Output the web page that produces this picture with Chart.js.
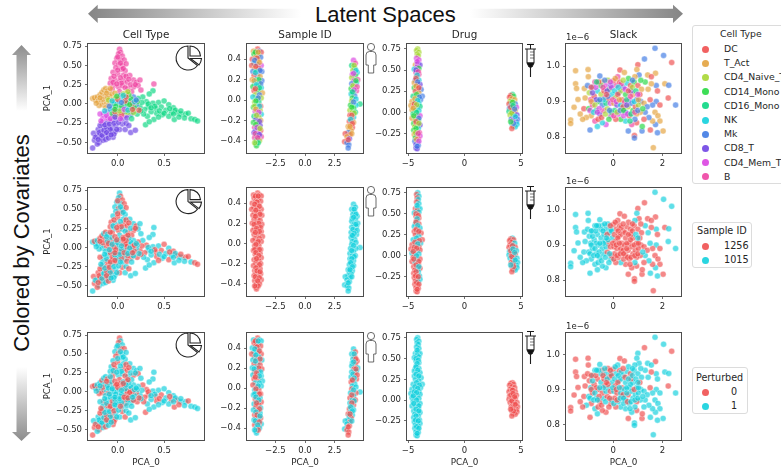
<!DOCTYPE html>
<html>
<head>
<meta charset="utf-8">
<script src="https://cdn.jsdelivr.net/npm/chart.js@4"></script>
<style>
  html, body { margin: 0; background: #fff; }
  body { position: relative; width: 781px; height: 472px; overflow: hidden; font-family: "DejaVu Sans", sans-serif; color: #262626; }
  canvas { position: absolute; filter: blur(0.3px); }
  svg { position: absolute; left: 0; top: 0; }
  .big { position: absolute; font: 22px "Liberation Sans", sans-serif; color: #111; white-space: nowrap; }
  .legend { position: absolute; box-sizing: border-box; border: 1px solid #dcdcdc; border-radius: 3px; background: #fff; }
  .legend div { position: absolute; white-space: nowrap; line-height: 12px; }
  .legend i { position: absolute; width: 7px; height: 7px; border-radius: 50%; }
</style>
</head>
<body>
<svg width="781" height="472">
  <defs>
    <linearGradient id="fadeLeft" x1="0" x2="1" y1="0" y2="0"><stop offset="0" stop-color="#858585"/><stop offset="1" stop-color="#fff"/></linearGradient>
    <linearGradient id="fadeRight" x1="1" x2="0" y1="0" y2="0"><stop offset="0" stop-color="#858585"/><stop offset="1" stop-color="#fff"/></linearGradient>
    <linearGradient id="fadeUp" x1="0" x2="0" y1="0" y2="1"><stop offset="0" stop-color="#8c8c8c"/><stop offset="1" stop-color="#fff"/></linearGradient>
    <linearGradient id="fadeDown" x1="0" x2="0" y1="1" y2="0"><stop offset="0" stop-color="#8c8c8c"/><stop offset="1" stop-color="#fff"/></linearGradient>
    <g id="pie" fill="#fff" stroke="#222" stroke-width="1.1">
      <path d="M188 58 V46 A12 12 0 1 0 197.5 65.5 Z"/>
      <path d="M190 56 V46 A10.5 10.5 0 0 1 200.5 56 Z"/>
      <path d="M190.5 58.5 H201.5 A12 12 0 0 1 199 65 Z"/>
    </g>
    <g id="person" fill="#fff" stroke="#444" stroke-width="0.8">
      <circle cx="371" cy="47" r="3.6"/>
      <path d="M366 65 V55 Q366 51.5 369.5 51.5 H372.5 Q376 51.5 376 55 V65 H373.7 V73 H368.3 V65 Z"/>
    </g>
    <g id="syringe" fill="none" stroke="#1c1c1c" stroke-width="1">
      <path d="M527 44.5 H534 M530.5 44.5 V49 M525 49 H536 M527 49 V63 H534 V49"/>
      <path d="M530 52 H534 M530 55 H534 M530 58 H534" stroke-width="0.6"/>
      <path d="M527 63 H534 L532 67 H529 Z" fill="#111"/>
      <path d="M530.5 67 V77" stroke-width="1.1"/>
    </g>
  </defs>
  <path d="M88 13.7 L97.7 4.7 V8.8 H301 V18 H97.7 V23 Z" fill="url(#fadeLeft)"/>
  <path d="M683 13.7 L673 4.7 V8.8 H470 V18 H673 V23 Z" fill="url(#fadeRight)"/>
  <path d="M21.5 45 L31 55 H27 V111 H16.5 V55 H12 Z" fill="url(#fadeUp)"/>
  <path d="M21.5 441 L31 432 H27 V367 H16.5 V432 H12 Z" fill="url(#fadeDown)"/>
</svg>
<div class="big" style="left:315px;top:2px">Latent Spaces</div>
<div class="big" style="left:22px;top:243px;transform:translate(-50%,-50%) rotate(-90deg)">Colored by Covariates</div>
<svg id="icons" width="781" height="472" style="z-index:5">
  <use href="#pie"/><use href="#pie" y="143.6"/><use href="#pie" y="287"/>
  <use href="#person"/><use href="#person" y="143"/><use href="#person" y="289"/>
  <use href="#syringe"/><use href="#syringe" y="142"/><use href="#syringe" y="287"/>
</svg>
<script>
// every point: [x, y, cell type index, sample index, perturbed]
const cellTypes = ["DC", "T_Act", "CD4_Naive_T", "CD14_Mono", "CD16_Mono", "NK", "Mk", "CD8_T", "CD4_Mem_T", "B"];
const typeColors = ["#ef4b4b", "#e3a13a", "#a6d62f", "#22d83f", "#04d67f", "#0ccfdc", "#3b78e3", "#6b3fe3", "#d93fe0", "#ee3fa0"];
const sampleIds = ["1256", "1015"];
const perturbedIds = ["0", "1"];
const redCyan = ["#ef4b4b", "#0ccfdc"];

const panelTitles = ["Cell Type", "Sample ID", "Drug", "Slack"];

const xTicks = [[0, 0.5], [-2.5, 0, 2.5], [-5, 0, 5], [0, 2]];
const xTickLabels = [["0.0", "0.5"], ["−2.5", "0.0", "2.5"], ["−5", "0", "5"], ["0", "2"]];
const yTicks = [[-0.5, -0.25, 0, 0.25, 0.5, 0.75], [-0.4, -0.2, 0, 0.2, 0.4], [-0.25, 0, 0.25, 0.5, 0.75], [0.8, 0.9, 1.0]];
const yTickLabels = [["−0.50", "−0.25", "0.00", "0.25", "0.50", "0.75"], ["−0.4", "−0.2", "0.0", "0.2", "0.4"], ["−0.25", "0.00", "0.25", "0.50", "0.75"], ["0.8", "0.9", "1.0"]];
const xRanges = [[-0.32, 0.93], [-4.9, 4.9], [-5.1, 5.1], [-1.93, 2.76]];
const yRanges = [[-0.635, 0.79], [-0.52, 0.56], [-0.48, 0.82], [0.755, 1.065]];

const cellTypePoints = [
  [.02,.71,9,1,0],[.03,.67,9,0,1],[.01,.65,9,1,0],[.05,.62,9,0,1],[-.01,.59,9,1,1],[.03,.57,9,1,0],[.07,.57,9,0,0],[-.03,.53,9,1,1],[.01,.51,9,0,0],[.05,.5,9,1,1],
  [.09,.52,9,0,1],[-.02,.47,9,1,0],[.04,.45,9,0,1],[.08,.43,9,1,1],[-.05,.41,9,1,1],[0,.39,9,0,0],[.06,.37,9,1,1],[-.07,.33,9,0,1],[-.03,.31,9,1,0],[.02,.29,9,0,1],
  [.07,.31,9,0,0],[.13,.37,9,1,1],[.17,.31,9,1,1],[.1,.28,9,0,0],[-.08,.27,9,0,1],[-.04,.24,9,1,0],[.01,.22,9,0,1],[.05,.24,9,1,1],[.2,.28,9,0,1],[.24,.31,9,1,1],
  [.22,.24,9,1,0],[.17,.22,9,0,0],[.11,.2,9,0,1],[.39,.26,9,1,1],[.02,.16,9,1,0],[-.06,.19,9,0,0],[.15,.16,9,0,1],[.25,.18,9,1,1],
  [.0,.44,9,0,1],[.06,.46,9,1,1],[-.04,.36,9,0,0],[.03,.34,9,1,1],[.09,.36,9,0,0],[-.05,.28,9,1,1],[.04,.27,9,0,1],[.12,.32,9,0,0],[.14,.25,9,1,1],[-.01,.26,9,0,1],[.08,.21,9,1,0],[.19,.25,9,0,1],[.03,.53,9,1,1],[.0,.61,9,0,1],
  [-.27,.07,1,1,0],[-.24,.05,1,1,1],[-.25,.08,1,0,0],[-.22,.09,1,1,1],[-.21,.04,1,1,0],[-.19,.12,1,0,1],[-.17,.15,1,0,0],[-.15,.18,1,1,1],[-.13,.2,1,0,1],[-.11,.17,1,1,0],
  [-.14,.1,1,0,1],[-.18,.03,1,1,1],[-.16,-.01,1,1,0],[-.12,.02,1,0,1],[-.09,.1,1,0,0],[-.07,.13,1,1,1],[-.1,-.02,1,0,0],[-.13,-.05,1,1,1],[-.05,.06,1,0,1],[-.2,-.02,1,1,0],
  [-.08,.2,1,0,1],[-.03,.14,1,0,0],[.04,-.1,1,1,1],[.09,.14,1,0,0],[.12,-.06,1,1,1],[-.23,.01,1,1,1],[-.16,.06,1,0,0],[-.11,.08,1,1,1],[-.19,.08,1,0,1],[-.12,.14,1,1,0],[-.06,.02,1,0,1],
  [.38,.17,4,1,1],[.34,.13,4,1,1],[.27,.09,4,1,0],[.22,.07,4,0,1],[.31,.03,4,0,0],[.38,.01,4,1,1],[.44,.02,4,1,1],[.5,.04,4,0,1],[.47,-.04,4,0,0],[.55,-.01,4,1,1],
  [.33,-.04,4,1,0],[.41,-.06,4,0,0],[.52,-.08,4,1,1],[.6,-.05,4,0,1],[.58,-.11,4,1,0],[.64,-.11,4,0,0],[.68,-.13,4,1,1],[.73,-.13,4,0,1],[.76,-.12,4,0,0],[.72,-.18,4,1,1],
  [.79,-.19,4,1,1],[.83,-.2,4,0,1],[.86,-.22,4,0,1],[.61,-.2,4,1,0],[.66,-.17,4,1,0],[.55,-.16,4,0,1],[.48,-.14,4,1,1],[.42,-.12,4,0,0],[.36,-.1,4,1,1],[.29,-.07,4,0,0],
  [.24,-.04,4,0,1],[.32,-.16,4,1,1],[.39,-.2,4,1,1],[.21,-.13,4,0,0],[.16,-.1,4,1,1],[.62,-.08,4,1,1],[.3,-.27,4,1,0],[.34,-.23,4,1,1],
  [.26,.02,4,0,1],[.33,.0,4,1,0],[.4,-.03,4,0,1],[.45,-.09,4,1,0],[.5,-.12,4,1,1],[.56,-.06,4,0,0],[.6,-.13,4,1,1],[.68,-.09,4,0,1],[.28,-.13,4,1,0],[.25,-.09,4,0,1],[.36,-.05,4,1,1],[.44,-.17,4,0,1],
  [-.27,-.57,7,1,0],[-.25,-.47,7,0,0],[-.22,-.42,7,1,1],[-.26,-.38,7,0,1],[-.2,-.5,7,1,0],[-.18,-.44,7,0,0],[-.16,-.47,7,1,1],[-.14,-.41,7,0,1],[-.17,-.36,7,1,0],[-.12,-.35,7,0,0],
  [-.1,-.4,7,1,1],[-.08,-.36,7,0,1],[-.05,-.43,7,1,0],[-.21,-.33,7,0,1],[-.15,-.3,7,1,1],[-.1,-.29,7,1,1],[-.06,-.31,7,0,0],[-.02,-.28,7,1,1],[-.03,-.36,7,1,0],[.02,-.33,7,0,1],
  [.05,-.26,7,0,0],[.09,-.25,7,1,1],[-.12,-.24,7,0,1],[-.07,-.22,7,1,0],[-.02,-.2,7,0,1],[.05,-.19,7,1,1],[-.17,-.25,7,0,0],[.14,-.37,7,1,1],[.19,-.34,7,1,1],[.08,-.33,7,1,0],
  [.12,-.28,7,0,1],[-.19,-.4,7,0,1],[-.22,-.52,7,0,1],
  [-.24,-.43,7,1,0],[-.2,-.37,7,0,1],[-.17,-.41,7,1,1],[-.13,-.46,7,1,0],[-.1,-.44,7,0,1],[-.15,-.34,7,1,1],[-.12,-.31,7,0,0],[-.08,-.33,7,1,1],[-.04,-.39,7,1,0],[-.01,-.33,7,1,1],[-.19,-.28,7,0,0],[-.14,-.27,7,1,1],[-.09,-.26,7,0,1],[-.04,-.25,7,1,0],[.01,-.24,7,1,1],[-.12,-.37,7,0,0],[-.07,-.4,7,1,1],[-.21,-.46,7,0,0],
  [-.15,-.13,8,1,0],[-.19,-.13,8,0,1],[-.16,-.19,8,1,1],[-.11,-.18,8,0,0],[-.05,-.16,8,0,1],[-.18,-.22,8,1,0],[-.11,-.1,8,1,1],[-.04,-.09,8,0,0],[.01,-.14,8,1,1],[.08,-.15,8,1,0],
  [-.02,.03,6,0,1],[.03,.11,6,1,0],[.11,.03,6,0,0],[.17,.09,6,1,1],[.06,-.02,6,0,1],[.2,-.01,6,1,0],[-.05,-.05,6,1,1],[.14,-.14,6,0,1],
  [.0,.01,5,1,1],[.05,.05,5,0,0],[.09,-.04,5,1,0],[-.04,.0,5,0,1],[.13,.04,5,1,1],[.02,-.06,5,0,1],[.15,-.03,5,1,0],[.07,.08,5,0,0],[-.08,-.07,5,0,1],
  [-.02,-.03,3,0,1],[.04,-.03,3,1,1],[.1,.01,3,0,0],[.14,.07,3,1,1],[.18,-.05,3,0,1],[.08,-.1,3,1,0],[-.06,-.13,3,0,0],[.12,.12,3,1,1],[.21,.03,3,1,1],
  [-.1,.05,2,0,1],[-.02,.08,2,1,0],[.06,.13,2,0,1],[.11,.16,2,0,0],[-.01,-.14,2,1,1],[.11,-.11,2,0,1],[.17,-.11,2,1,0],
  [.0,.06,0,1,0],[.08,.04,0,0,1],[-.03,-.1,0,1,1],[.16,.01,0,0,0],[.04,-.14,0,0,1],[.23,-.08,0,1,0],
  [-.06,.04,5,1,1],[-.01,.1,3,0,0],[.04,.02,6,1,1],[.09,.09,0,0,1],[.13,-.01,3,1,0],[.18,.03,5,0,1],[.02,-.09,2,1,1],[.07,-.07,8,0,0],[-.09,-.03,6,1,1],[-.03,-.07,3,0,1],[.11,-.08,5,1,0],[.16,-.07,0,0,1],[.2,.05,6,1,1],[.06,.11,5,0,0],[-.12,-.15,8,1,1],[-.08,-.19,8,0,0],[-.14,-.09,5,1,1],[-.03,-.17,7,0,1],[.03,-.19,8,1,0],[.1,-.18,7,0,1],[.15,-.19,4,1,1]
];

const sampleIdPoints = [
  [-4.0,.5,0,0,0],[-4.35,.48,1,0,1],[-3.85,.48,6,0,1],[-4.1,.47,0,0,0],[-3.7,.47,0,0,1],[-4.3,.45,3,0,0],[-3.95,.44,2,0,1],[-4.45,.4,0,0,1],[-4.15,.42,1,0,0],[-3.75,.42,6,0,0],
  [-3.95,.38,1,0,1],[-4.3,.36,5,0,1],[-4.5,.34,0,0,0],[-4.05,.35,6,0,1],[-3.7,.34,8,0,0],[-4.25,.31,1,0,0],[-3.9,.31,0,0,1],[-4.4,.28,6,0,1],[-4.1,.28,3,0,0],[-3.65,.28,6,0,1],
  [-4.0,.24,6,0,1],[-4.3,.24,0,0,0],[-3.8,.23,1,0,0],[-4.45,.2,1,0,1],[-4.1,.2,5,0,1],[-3.65,.19,6,0,0],[-4.25,.16,5,0,0],[-3.9,.16,2,0,1],[-4.4,.13,3,0,1],[-4.05,.13,4,0,0],
  [-3.7,.12,5,0,1],[-4.3,.09,0,0,0],[-3.95,.09,3,0,0],[-3.6,.07,1,0,1],[-4.2,.05,2,0,1],[-3.85,.05,6,0,1],[-4.4,.03,5,0,0],[-4.05,.01,4,0,0],[-3.7,.02,2,0,1],[-4.25,-.02,2,0,1],
  [-3.9,-.02,4,0,0],[-4.1,-.05,5,0,1],[-3.75,-.06,0,0,0],[-4.35,-.07,3,0,1],[-4.0,-.09,1,0,0],[-3.8,-.1,2,0,1],[-4.2,-.11,8,0,0],[-4.0,-.14,8,0,1],[-3.7,-.14,5,0,0],[-4.3,-.16,4,0,1],
  [-3.9,-.17,2,0,0],[-4.15,-.19,7,0,0],[-3.75,-.2,1,0,1],[-4.35,-.22,3,0,1],[-4.0,-.23,2,0,0],[-3.8,-.25,7,0,1],[-4.25,-.27,9,0,0],[-3.95,-.28,3,0,1],[-4.15,-.3,6,0,0],[-3.75,-.3,0,0,0],
  [-4.3,-.32,7,0,1],[-3.95,-.33,8,0,1],[-4.1,-.35,4,0,0],[-3.7,-.36,9,0,1],[-4.25,-.37,9,0,0],[-3.9,-.38,9,0,0],[-4.1,-.4,3,0,1],[-3.85,-.4,2,0,1],[-4.15,-.43,4,0,1],[-4.1,-.45,3,0,1],
  [-4.2,.47,3,0,0],[-3.95,.47,1,0,1],[-4.05,.41,0,0,0],[-4.25,.39,6,0,1],[-3.85,.37,1,0,0],[-4.15,.33,0,0,1],[-3.8,.29,6,0,0],[-4.2,.27,5,0,1],[-3.9,.2,3,0,0],[-4.3,.19,1,0,1],
  [-3.75,.16,6,0,1],[-4.1,.15,5,0,0],[-3.85,.12,4,0,1],[-4.2,.11,0,0,0],[-3.95,.02,6,0,1],[-4.15,-.01,3,0,0],[-4.25,-.06,2,0,1],[-3.85,-.06,5,0,0],[-4.15,-.09,1,0,1],[-3.9,-.12,8,0,1],
  [-4.1,-.15,2,0,0],[-3.85,-.21,7,0,0],[-4.15,-.24,3,0,1],[-4.05,-.27,8,0,0],[-3.8,-.28,2,0,1],[-4.2,-.33,9,0,1],[-3.85,-.34,7,0,0],[-4.0,-.37,9,0,1],[-3.95,-.42,4,0,0],[-4.25,-.42,2,0,1],
  [4.1,.39,8,1,1],[4.25,.36,9,1,0],[3.95,.34,4,1,1],[4.2,.31,3,1,0],[4.05,.29,2,1,1],[4.4,.27,5,1,0],[4.0,.25,8,1,1],[4.25,.24,3,1,0],[3.95,.22,2,1,1],[4.45,.2,9,1,1],
  [4.15,.19,8,1,0],[4.35,.17,5,1,1],[3.95,.16,6,1,1],[4.2,.13,2,1,0],[3.9,.11,3,1,1],[4.35,.09,9,1,0],[4.1,.08,4,1,1],[3.9,.06,5,1,0],[4.2,.04,6,1,1],[4.0,.02,3,1,1],
  [4.65,-.04,4,1,1],[3.95,-.01,2,1,0],[4.3,-.05,5,1,0],[3.85,-.05,3,1,1],[4.1,-.08,3,1,1],[3.8,-.1,2,1,0],[4.0,-.12,2,1,1],[4.25,-.12,4,1,0],[3.8,-.15,0,1,1],[4.1,-.17,5,1,0],
  [3.95,-.19,0,1,1],[3.75,-.21,0,1,0],[4.1,-.22,1,1,1],[3.85,-.24,0,1,1],[3.65,-.26,1,1,0],[4.0,-.27,0,1,1],[3.75,-.28,1,1,1],[3.9,-.3,1,1,0],[3.65,-.32,6,1,1],[3.4,-.33,0,1,1],
  [3.8,-.34,0,1,0],[3.55,-.36,1,1,1],[3.75,-.38,7,1,0],[3.35,-.41,0,1,1],[3.55,-.42,6,1,0],[3.7,-.44,6,1,0],[3.65,-.47,6,1,0],
  [4.15,.34,2,1,1],[4.3,.29,5,1,0],[4.1,.26,8,1,1],[4.3,.19,3,1,0],[4.05,.14,2,1,1],[4.4,.13,9,1,0],[4.15,.1,8,1,1],[4.0,.08,4,1,0],[4.3,.01,5,1,1],[4.1,-.02,6,1,1],
  [3.95,-.07,3,1,0],[4.15,-.13,2,1,1],[3.95,-.15,0,1,0],[3.85,-.19,5,1,1],[4.0,-.23,0,1,1],[3.8,-.26,1,1,0],[3.95,-.33,1,1,1],[3.65,-.39,0,1,0]
];

const drugPoints = [
  [-4.15,.75,2,1,1],[-4.25,.73,2,0,1],[-4.05,.71,2,1,1],[-4.2,.69,2,0,1],[-4.1,.67,2,1,1],[-4.25,.64,8,0,1],[-4.05,.62,8,1,1],[-4.35,.56,1,0,1],[-4.15,.57,7,1,1],[-3.95,.56,7,1,1],
  [-4.2,.54,8,0,1],[-4.45,.51,5,1,1],[-4.05,.52,3,1,1],[-4.3,.47,9,0,1],[-4.05,.45,9,0,1],[-4.25,.42,0,0,1],[-4.35,.38,6,1,1],[-4.05,.38,5,0,1],[-4.45,.35,1,1,1],[-4.2,.33,0,0,1],
  [-3.95,.33,7,1,1],[-4.45,.29,3,0,1],[-4.15,.28,1,1,1],[-3.85,.27,6,0,1],[-4.35,.25,0,0,1],[-4.05,.23,1,1,1],[-3.75,.19,6,0,1],[-4.55,.19,4,1,1],[-4.2,.17,2,0,1],[-3.9,.15,6,1,1],
  [-4.65,.13,1,0,1],[-4.35,.12,3,1,1],[-4.05,.11,5,0,1],[-4.75,.08,1,0,1],[-4.5,.07,0,0,1],[-4.2,.06,6,1,1],[-3.95,.07,4,0,1],[-4.65,.03,1,1,1],[-4.35,.02,3,0,1],[-4.05,.02,5,1,1],
  [-4.55,-.02,4,0,1],[-4.2,-.04,0,1,1],[-3.95,-.04,8,0,1],[-4.65,-.07,1,0,1],[-4.35,-.08,2,1,1],[-4.1,-.1,3,0,1],[-4.5,-.13,3,0,1],[-4.2,-.14,0,1,1],[-3.95,-.15,7,0,1],[-4.4,-.17,2,0,1],
  [-4.1,-.19,5,1,1],[-4.5,-.21,3,0,1],[-4.25,-.23,4,0,1],[-4.0,-.24,9,1,1],[-4.45,-.26,1,0,1],[-4.2,-.27,7,0,1],[-3.95,-.28,8,1,1],[-4.35,-.3,3,0,1],[-4.1,-.31,9,1,1],[-4.4,-.34,6,0,1],
  [-4.15,-.36,6,0,1],[-4.3,-.38,7,0,1],[-4.1,-.39,6,0,1],[-4.3,-.42,7,0,1],[-4.2,-.43,7,0,1],
  [-4.2,.6,8,1,1],[-4.3,.5,7,0,1],[-4.1,.48,9,0,1],[-4.2,.44,5,1,1],[-4.3,.4,0,0,1],[-4.15,.36,6,1,1],[-4.3,.31,1,0,1],[-4.05,.29,0,0,1],[-4.25,.21,3,1,1],[-4.0,.18,6,0,1],
  [-4.4,.16,1,0,1],[-4.15,.14,5,1,1],[-4.45,.1,0,0,1],[-4.25,.09,2,0,1],[-4.55,.05,1,0,1],[-4.25,.0,4,1,1],[-4.5,-.04,3,0,1],[-4.05,-.07,6,0,1],[-4.3,-.11,0,0,1],[-4.05,-.13,2,1,1],
  [-4.3,-.19,3,0,1],[-4.35,-.24,2,0,1],[-4.1,-.25,9,0,1],[-4.25,-.32,1,0,1],[-4.05,-.34,8,0,1],[-4.2,-.4,6,0,1],
  [4.25,.21,4,1,0],[4.1,.2,0,0,0],[4.35,.19,3,0,0],[4.0,.18,0,0,0],[4.2,.16,1,0,0],[4.45,.15,1,1,0],[4.05,.13,2,0,0],[4.3,.12,2,1,0],[4.5,.1,6,0,0],[3.95,.1,0,0,0],
  [4.15,.08,6,0,0],[4.4,.07,5,0,0],[4.6,.06,8,1,0],[4.0,.05,6,1,0],[4.25,.04,2,0,0],[4.5,.02,1,0,0],[3.95,.01,4,1,0],[4.15,.0,3,0,0],[4.4,-.01,0,0,0],[4.65,-.03,7,1,0],
  [4.05,-.03,2,1,0],[4.3,-.05,3,0,0],[4.55,-.06,7,1,0],[4.7,-.08,6,1,0],[4.15,-.08,6,0,0],[4.4,-.1,5,1,0],[4.6,-.11,6,1,0],[4.2,-.13,5,0,0],[4.45,-.14,6,1,0],[4.65,-.14,5,1,0],
  [4.3,-.16,1,0,0],[4.5,-.17,5,1,0],[4.2,-.19,0,0,0],
  [4.25,.12,3,0,0],[4.1,.06,0,0,0],[4.3,.08,4,1,0],[4.2,-.01,2,0,0],[4.45,.04,6,1,0],[4.3,-.09,8,0,0],[4.5,-.05,5,1,0],[4.35,-.13,6,0,0],[4.1,-.11,3,1,0]
];

const slackPoints = [
  [1.7,1.05,6,1,1],[2.05,1.03,6,1,1],[2.38,1.01,0,1,0],[1.27,1.02,6,0,0],[1.0,1.004,0,0,1],[2.54,.89,6,1,1],[2.24,.91,0,1,0],[2.1,.95,1,0,1],[2.26,.946,6,1,1],[1.63,.77,1,0,1],
  [2.03,.817,1,0,1],[1.8,.812,6,1,1],[1.51,.82,0,1,1],[.86,.804,0,0,1],[.86,.797,6,0,1],[.61,.817,6,0,0],[1.17,.817,6,0,0],[-1.74,.848,1,1,0],[-1.74,.838,1,1,0],[-.95,.82,6,1,0],
  [-1.6,.884,1,1,0],[-1.54,.987,1,1,0],[-1.03,.99,1,1,0],[-1.02,.97,1,1,0],[-1.54,.95,1,1,0],[-1.5,.937,1,1,0],[-1.18,.937,1,1,0],[-1.44,.906,1,1,0],[.27,.989,0,0,0],[.45,.982,1,0,0],
  [.96,.99,1,1,1],[1.05,.975,6,0,1],[1.4,.975,1,0,1],[1.72,.98,1,0,0],[1.55,.97,0,0,1],[1.3,.955,3,1,1],[1.75,.945,6,1,1],[1.55,.95,1,0,0],[1.42,.935,1,1,1],[1.8,.93,0,0,1],
  [1.75,.9,6,1,1],[1.9,.89,0,0,1],[1.6,.89,6,0,1],[1.5,.905,0,1,0],[1.7,.87,1,0,1],[1.82,.86,1,0,1],[1.9,.845,1,0,1],[1.72,.835,6,1,1],[1.6,.845,1,0,1],[1.45,.855,6,1,1],
  [1.3,.87,6,1,1],[1.18,.83,3,0,0],[1.25,.85,0,0,1],[1.1,.87,1,0,1],[.95,.84,0,0,0],[.75,.835,9,0,1],[.5,.845,5,0,1],[.3,.85,3,1,1],[.1,.85,0,0,0],[-.1,.86,8,1,0],
  [-.3,.835,8,1,0],[-.45,.84,5,1,0],[-.65,.83,5,1,1],[-.75,.845,9,1,1],[-.9,.86,1,1,0],[-1.1,.855,1,1,1],[-1.25,.85,1,1,0],[-1.35,.865,1,1,0],[-1.2,.88,0,1,0],[-1.0,.88,3,1,1],
  [-.85,.89,9,1,0],[-.7,.875,4,1,1],[-.55,.865,7,1,0],[-.4,.875,9,1,1],[-.25,.88,2,0,0],[-.08,.87,3,0,1],[.05,.875,4,0,0],[.2,.865,8,0,1],[.35,.88,1,0,0],[.5,.87,6,0,1],
  [.65,.86,0,0,1],[.8,.875,3,0,1],[.95,.865,1,0,0],[1.12,.9,6,0,1],[1.25,.895,1,0,1],[1.38,.885,6,0,1],[-1.15,.91,1,1,0],[-.98,.925,2,1,0],[-.85,.94,6,1,1],[-.75,.955,9,1,1],
  [-.55,.972,6,1,1],[-.45,.955,1,1,0],[-.3,.945,8,1,1],[-.15,.935,3,1,0],[.0,.958,0,0,0],[.12,.945,9,0,1],[.25,.955,0,0,0],[.4,.94,6,0,1],[.55,.952,5,0,1],[.7,.945,0,0,0],
  [.85,.955,3,0,1],[1.0,.945,0,0,1],[1.15,.935,1,0,1],[-1.05,.945,6,1,0],[-.92,.905,9,1,1],[-.78,.915,0,1,0],[-.65,.93,5,1,0],[-.5,.92,2,1,1],[-.35,.91,9,1,0],[-.2,.905,0,0,1],
  [-.05,.92,5,1,1],[.08,.91,2,0,0],[.22,.925,6,0,1],[.35,.905,0,0,0],[.5,.92,3,0,1],[.65,.905,8,0,1],[.8,.92,1,0,1],[.95,.905,6,0,1],[1.08,.92,0,0,0],[-.95,.875,8,1,1],
  [-.6,.9,3,1,0],[-.45,.89,6,1,0],[-.3,.895,4,1,1],[-.12,.895,8,0,0],[.02,.895,1,0,1],[.15,.89,7,0,0],[.3,.89,5,0,1],[.45,.9,9,0,1],[.6,.885,2,0,0],[.75,.895,6,0,1],
  [.9,.885,0,0,1],[1.02,.89,2,0,1],[-.7,.905,7,1,0],[-.52,.945,3,1,1],[-.22,.96,2,1,0],[.18,.97,9,0,1],[.62,.965,3,0,1],[.88,.97,1,1,1],[-.38,.93,0,1,0],[-.1,.945,6,1,1],
  [.3,.93,2,0,1],[.72,.93,7,0,0],[1.12,.96,3,0,1],[.42,.86,8,0,1],[.88,.85,6,1,1],[.68,.845,4,0,1],[-.18,.85,3,1,0],[-.9,.9,1,1,0],[-.8,.87,5,1,1],[-.62,.85,0,1,0],
  [-.85,.925,7,1,1],[-.72,.94,8,1,0],[-.6,.955,0,1,1],[-.42,.94,9,1,0],[-.25,.93,7,0,1],[-.08,.94,8,1,0],[.05,.93,5,0,1],[.18,.92,0,0,0],[.32,.95,9,0,1],[.48,.935,8,0,0],
  [.62,.93,0,0,1],[.78,.94,2,0,1],[.92,.93,4,1,1],[-.75,.89,2,1,1],[-.58,.88,8,1,0],[-.4,.905,5,1,1],[-.22,.915,6,1,0],[-.02,.905,9,0,1],[.12,.9,8,0,0],[.25,.905,1,0,1],
  [.4,.885,0,0,0],[.55,.905,4,0,1],[.7,.915,9,0,1],[.85,.9,5,0,0],[1.02,.905,1,0,1],[-.65,.87,8,1,1],[-.48,.855,0,1,0],[-.32,.865,2,1,1],[-.15,.875,6,1,0],[.02,.86,9,0,1],
  [.15,.87,2,0,0],[.28,.875,6,0,1],[.42,.875,3,0,1],[.58,.865,8,0,0],[.72,.865,4,0,1],[.88,.87,9,0,1],[1.0,.875,6,0,1],[-.9,.94,0,1,0],[-.68,.955,4,1,1],[-.35,.96,6,1,1],
  [-.12,.955,8,0,0],[.08,.965,1,0,1],[.4,.96,2,0,0],[.78,.96,6,0,1],[1.0,.92,8,1,1],[1.2,.88,3,1,1],[.2,.94,5,0,1],[.55,.89,7,0,1],[-.28,.92,0,1,0],[-.55,.905,6,1,1]
];

const panelPoints = [cellTypePoints, sampleIdPoints, drugPoints, slackPoints];

const colBounds = [[88, 204], [247, 363], [407, 522], [566, 681]];
const rowBounds = [[43, 153], [187, 296], [332, 440]];
const gutterLeft = 50, gutterTop = 22, gutterRight = 8, gutterBottom = 28;
const tickFont = { family: "DejaVu Sans", size: 8.5 };

// draws the frame, the title and the 1e-6 offset of the axes
const panelDecor = {
  id: "panelDecor",
  afterDraw(chart, args, opts) {
    const { ctx, chartArea: a } = chart;
    ctx.save();
    ctx.strokeStyle = "#4d4d4d";
    ctx.lineWidth = 1;
    ctx.strokeRect(a.left - 0.5, a.top + 0.5, a.width + 1, a.height);
    ctx.fillStyle = "#262626";
    ctx.textBaseline = "middle";
    if (opts.title) {
      ctx.font = "10.4px 'DejaVu Sans'";
      ctx.textAlign = "center";
      ctx.fillText(opts.title, (a.left + a.right) / 2, a.top - 7.5);
    }
    if (opts.offset) {
      ctx.font = "8.5px 'DejaVu Sans'";
      ctx.textAlign = "left";
      ctx.fillText(opts.offset, a.left, a.top - 5.5);
    }
    ctx.restore();
  },
};

function pointColor(p, row) {
  const hex = row === 0 ? typeColors[p[2]] : redCyan[row === 1 ? p[3] : p[4]];
  return hex + "a8";
}

function buildPanel(col, row) {
  const [left, right] = colBounds[col];
  const [top, bottom] = rowBounds[row];
  const canvas = document.createElement("canvas");
  canvas.width = right - left + gutterLeft + gutterRight;
  canvas.height = bottom - top + gutterTop + gutterBottom;
  canvas.style.left = left - gutterLeft + "px";
  canvas.style.top = top - gutterTop + "px";
  document.body.appendChild(canvas);

  const points = panelPoints[col];
  return new Chart(canvas, {
    type: "scatter",
    data: {
      datasets: [{
        data: points.map((p) => ({ x: p[0], y: p[1] })),
        pointRadius: 3,
        pointBorderWidth: 0.5,
        pointBorderColor: "rgba(255,255,255,0.7)",
        pointBackgroundColor: points.map((p) => pointColor(p, row)),
      }],
    },
    plugins: [panelDecor],
    options: {
      responsive: false,
      animation: false,
      layout: { padding: { top: gutterTop, right: gutterRight, left: 0, bottom: 0 } },
      plugins: {
        legend: { display: false },
        tooltip: { enabled: false },
        panelDecor: { title: row === 0 ? panelTitles[col] : "", offset: col === 3 ? "1e−6" : "" },
      },
      scales: {
        x: {
          type: "linear",
          min: xRanges[col][0],
          max: xRanges[col][1],
          afterBuildTicks: (s) => { s.ticks = xTicks[col].map((v) => ({ value: v })); },
          afterFit: (s) => { s.height = gutterBottom; },
          ticks: { autoSkip: false, maxRotation: 0, color: "#262626", font: tickFont, padding: 2.5, callback: (v, i) => xTickLabels[col][i] },
          grid: { drawOnChartArea: false, tickLength: 3, tickColor: "#4d4d4d", tickWidth: 0.8 },
          border: { display: false },
          title: { display: row === 2, text: "PCA_0", color: "#262626", font: { family: "DejaVu Sans", size: 8.8 }, padding: 0 },
        },
        y: {
          type: "linear",
          min: yRanges[col][0],
          max: yRanges[col][1],
          afterBuildTicks: (s) => { s.ticks = yTicks[col].map((v) => ({ value: v })); },
          afterFit: (s) => { s.width = gutterLeft; },
          ticks: { autoSkip: false, color: "#262626", font: tickFont, padding: 3, callback: (v, i) => yTickLabels[col][i] },
          grid: { drawOnChartArea: false, tickLength: 3, tickColor: "#4d4d4d", tickWidth: 0.8 },
          border: { display: false },
          title: { display: col === 0, text: "PCA_1", color: "#262626", font: { family: "DejaVu Sans", size: 8.5 }, padding: { top: 5, bottom: 0 } },
        },
      },
    },
  });
}

function addLegend(box, title, labels, colors, textLeft, fontSize) {
  const el = document.createElement("div");
  el.className = "legend";
  el.style.cssText = `left:${box.x}px;top:${box.y}px;width:${box.w}px;height:${box.h}px;font-size:${fontSize}px`;
  const head = document.createElement("div");
  head.textContent = title;
  head.style.cssText = `left:${box.titleLeft}px;top:${box.titleTop}px`;
  el.appendChild(head);
  labels.forEach((label, i) => {
    const rowY = box.firstRow + i * box.rowGap;
    const dot = document.createElement("i");
    dot.style.cssText = `left:9px;top:${rowY - 3.5}px;background:${colors[i]}e0`;
    const text = document.createElement("div");
    text.textContent = label;
    text.style.cssText = `left:${textLeft}px;top:${rowY - 6}px`;
    el.appendChild(dot);
    el.appendChild(text);
  });
  document.body.appendChild(el);
}

for (let row = 0; row < rowBounds.length; row++) {
  for (let col = 0; col < colBounds.length; col++) buildPanel(col, row);
}

addLegend({ x: 692, y: 25, w: 110, h: 159, titleLeft: 27, titleTop: 2, firstRow: 23, rowGap: 14.2 }, "Cell Type", cellTypes, typeColors, 31, 9.3);
addLegend({ x: 692, y: 222, w: 60, h: 46, titleLeft: 4, titleTop: 2, firstRow: 23, rowGap: 14 }, "Sample ID", sampleIds, redCyan, 31, 9.7);
addLegend({ x: 692, y: 367, w: 56, h: 47, titleLeft: 3, titleTop: 4, firstRow: 24, rowGap: 14 }, "Perturbed", perturbedIds, redCyan, 38, 9.6);
</script>
</body>
</html>
